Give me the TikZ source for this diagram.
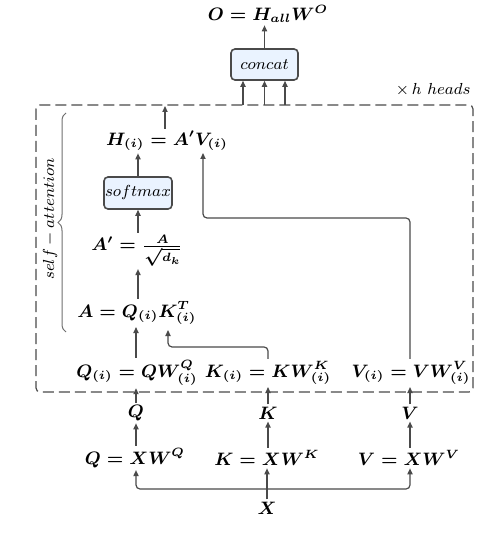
\documentclass[tikz,border=0pt]{standalone}
\usepackage{amsmath}
\usetikzlibrary{arrows.meta,decorations.pathreplacing}
\definecolor{ln}{HTML}{4A4A4A}
\definecolor{bx}{HTML}{EAF3FF}
\begin{document}
\begin{tikzpicture}[x=0.5pt,y=-0.5pt,
  eq/.style={inner sep=1pt, font=\fontsize{9.2}{11}\selectfont\boldmath},
  small/.style={inner sep=1pt, font=\fontsize{8}{9.5}\selectfont},
  opbox/.style={draw=ln, fill=bx, rounded corners=2pt, line width=0.8pt, inner sep=0pt,
    font=\fontsize{8}{9.5}\selectfont},
  conn/.style={draw=ln, line width=0.6pt, -{Triangle[length=3pt,width=2.6pt]}, rounded corners=2pt},
  frame/.style={draw=ln, line width=0.6pt, dash pattern=on 5.5pt off 2.5pt, rounded corners=2pt},
]
\useasboundingbox (0,0) rectangle (488,550);

% nodes
\node[eq] (O) at (268,14) {$O = H_{all}W^{O}$};
\node[opbox, minimum width=33.5pt, minimum height=15.5pt] (concat) at (264.5,64.5) {$concat$};
\node[small, anchor=east] (heads) at (473,90) {$\times\, h\ heads$};

\node[eq] (H) at (167,141) {$H_{(i)} = A'V_{(i)}$};
\node[opbox, minimum width=34pt, minimum height=16pt] (sm) at (138,193) {$softmax$};
\node[eq] (Ap) at (137,251) {$A' = \frac{A}{\sqrt{d_k}}$};
\node[eq] (A) at (137,313) {$A = Q_{(i)}K_{(i)}^{T}$};

\node[eq] (Qi) at (137,373) {$Q_{(i)} = QW_{(i)}^{Q}$};
\node[eq] (Ki) at (268,373) {$K_{(i)} = KW_{(i)}^{K}$};
\node[eq] (Vi) at (411,373) {$V_{(i)} = VW_{(i)}^{V}$};

\node[eq] (Q) at (136,413) {$Q$};
\node[eq] (K) at (268,413) {$K$};
\node[eq] (V) at (410,413) {$V$};

\node[eq] (Qx) at (135,458) {$Q = XW^{Q}$};
\node[eq] (Kx) at (267,458) {$K = XW^{K}$};
\node[eq] (Vx) at (409,458) {$V = XW^{V}$};

\node[eq] (X) at (267,508) {$X$};

\node[small, rotate=90] (sa) at (50,219) {$self-attention$};

% frame and brace
\draw[frame] (36,105) rectangle (473,392);
\draw[draw=ln!80, line width=0.5pt, decorate, decoration={brace, amplitude=4pt}] (66,332) -- (66,113);

% coordinates
\coordinate (c1) at (243,105);
\coordinate (c2) at (264.5,105);
\coordinate (c3) at (285,105);
\coordinate (top1) at (165,106);
\coordinate (kt) at (168,330);
\coordinate (hv) at (203,153);
\coordinate (vbend) at (0,218);
\coordinate (xb) at (0,489);

% connectors
\draw[conn] (concat.north) -- (concat.north |- O.south);
\draw[conn] (c1) -- (c1 |- concat.south);
\draw[conn] (c2) -- (c2 |- concat.south);
\draw[conn] (c3) -- (c3 |- concat.south);
\draw[conn] (H.north -| top1) -- (top1);
\draw[conn] (sm.north) -- (sm.north |- H.south);
\draw[conn] (sm.south |- Ap.north) -- (sm.south);
\draw[conn] (A.north -| sm.south) -- (sm.south |- Ap.south);
\draw[conn] (Qi.north -| Q) -- (Q |- A.south);
\draw[conn] (Ki.north) -- ++(0,-12) -| (kt);
\draw[conn] (Vi.north -| V) -- (V |- vbend) -| (hv);
\draw[conn] (Q.north) -- (Q |- Qi.south);
\draw[conn] (K.north) -- (K |- Ki.south);
\draw[conn] (V.north) -- (V |- Vi.south);
\draw[conn] (Qx.north -| Q) -- (Q.south);
\draw[conn] (Kx.north -| K) -- (K.south);
\draw[conn] (Vx.north -| V) -- (V.south);
\draw[conn] (X.north) -- (X.north |- Kx.south);
\draw[conn] (X.north |- xb) -| (Q |- Qx.south);
\draw[conn] (X.north |- xb) -| (V |- Vx.south);
\end{tikzpicture}
\end{document}
